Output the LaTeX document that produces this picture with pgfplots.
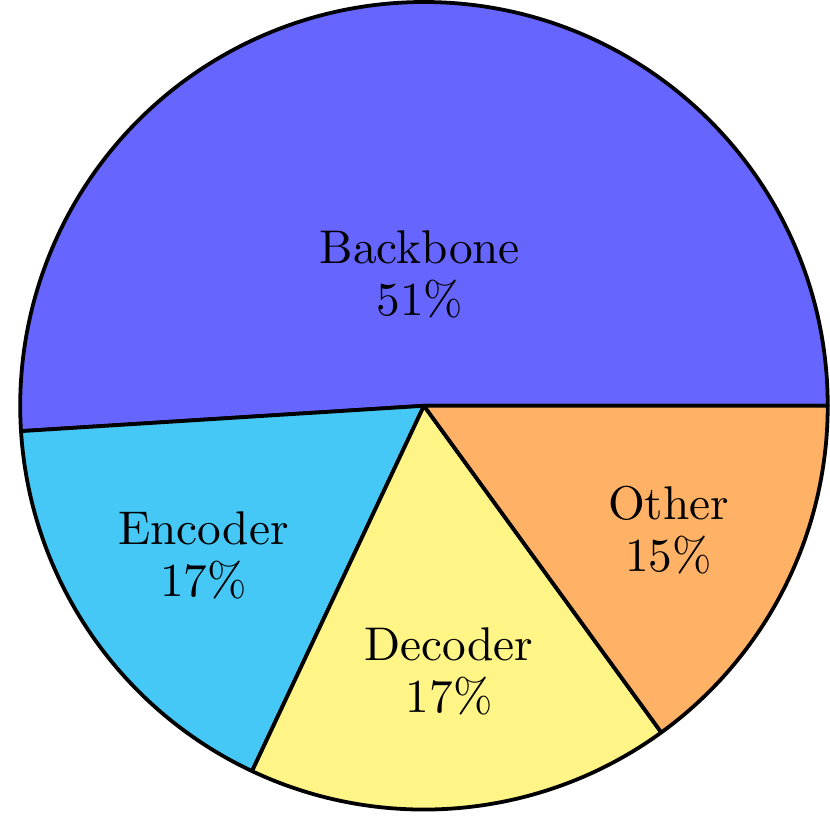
\documentclass[border=0pt]{standalone}
\usepackage{pgfplots}
\usepackage{pgfplotstable}
\pgfplotsset{compat=1.18}

\definecolor{slice0}{RGB}{102,102,255}
\definecolor{slice1}{RGB}{69,200,245}
\definecolor{slice2}{RGB}{255,245,135}
\definecolor{slice3}{RGB}{255,178,102}

% share of each part, in percent
\pgfplotstableread{
label value
Backbone 51
Encoder 17
Decoder 17
Other 15
}\piedata

\begin{document}
\begin{tikzpicture}
\begin{axis}[
    hide axis,
    clip=false,
    x=3cm, y=3cm,
    xmin=-1.05, xmax=1.005,
    ymin=-1.063, ymax=1.005,
]
\pgfplotstablegetrowsof{\piedata}
\pgfmathtruncatemacro\nrows{\pgfplotsretval-1}
\gdef\startangle{0}
\pgfplotsinvokeforeach{0,...,\nrows}{
  \pgfplotstablegetelem{#1}{value}\of\piedata
  \let\val\pgfplotsretval
  \pgfplotstablegetelem{#1}{label}\of\piedata
  \let\lab\pgfplotsretval
  \pgfmathsetmacro\slicespan{3.6*\val}
  \pgfmathsetmacro\endangle{\startangle+\slicespan}
  \pgfmathsetmacro\midangle{\startangle+\slicespan/2}
  \pgfmathsetmacro\lr{max(min((\slicespan-10)/110*(-0.3),0),-0.5)+0.8}
  \edef\doslice{%
    \noexpand\draw[thick, line join=round, fill=slice#1] (axis cs:0,0)
      -- (axis cs:{cos(\startangle)},{sin(\startangle)})
      arc[start angle=\startangle, end angle=\endangle, radius=3cm] -- cycle;
    \noexpand\node[align=center] at (axis cs:{\lr*cos(\midangle)},{\lr*sin(\midangle)})
      {\lab\noexpand\\[-1pt]\val\noexpand\%};%
  }
  \doslice
  \xdef\startangle{\endangle}
}
\end{axis}
\pgfresetboundingbox
\path[use as bounding box] (current axis.south west) rectangle (current axis.north east);
\end{tikzpicture}
\end{document}
